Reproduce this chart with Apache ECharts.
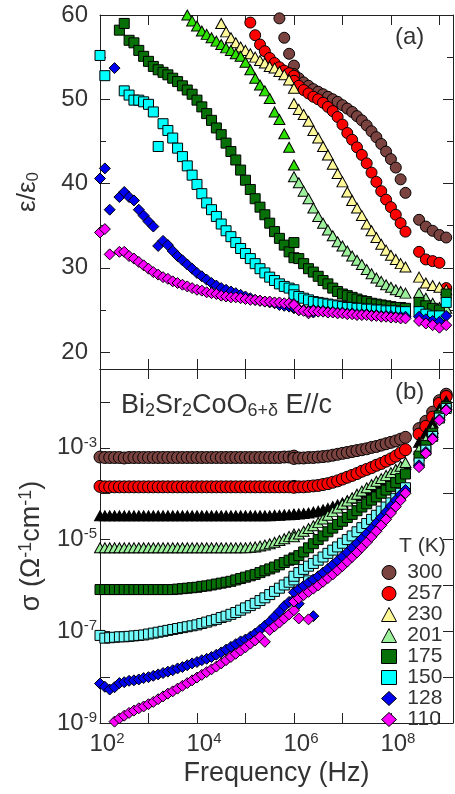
<!DOCTYPE html>
<html><head><meta charset="utf-8">
<script src="https://cdn.jsdelivr.net/npm/echarts@6.0.0/dist/echarts.min.js"></script>
<style>html,body{margin:0;padding:0;background:#fff}#c{width:455px;height:794px}</style>
</head><body><div id="c"></div>
<script>
const N = null;
// log10 of frequency (Hz): low-frequency band, high-frequency band, top band
const freqLow = [2.0,2.1,2.2,2.3,2.4,2.5,2.6,2.7,2.8,2.9,3.0,3.1,3.2,3.3,3.4,3.5,3.6,3.7,3.8,3.9,4.0,4.1,4.2,4.3,4.4,4.5,4.6,4.7,4.8,4.9,5.0,5.1,5.2,5.3,5.4,5.5,5.6,5.7,5.8,5.9,6.0,6.1,6.2,6.3,6.4];
const freqHigh = [6.0,6.1,6.2,6.3,6.4,6.5,6.6,6.7,6.8,6.9,7.0,7.1,7.2,7.3,7.4,7.5,7.6,7.7,7.8,7.9,8.0,8.1,8.2,8.3];
const freqTop = [8.58,8.72,8.86,9.0,9.14];
const logFreq = freqLow.concat(freqHigh, freqTop);

const temps = ['300','257','230','201','175','150','128','110'];

// panel (a): epsilon/epsilon0
const eps300 = [N,N,N,N,N,N,N,N,N,N, N,N,N,N,N,N,N,N,N,N, N,N,N,N,N,N,N,N,N,N, N,N,N,N,N,N,N,59.6,57.3,55.4, 54.0,N,N,N,N,
 53.0,52.5,52.0,51.6,51.2,50.9,50.6,50.3,50.0,49.7,49.3,48.9,48.5,48.0,47.5,46.9,46.2,45.5,44.7,43.8,42.9,41.9,40.5,38.9,
 35.7,34.9,34.4,33.9,33.6];
const eps257 = [N,N,N,N,N,N,N,N,N,N, N,N,N,N,N,N,N,N,N,N, N,N,N,N,N,N,N,N,N,N, N,59.1,57.6,56.5,55.7,54.9,54.3,53.8,53.4,53.1, 52.8,N,N,N,N,
 52.2,51.6,51.1,50.7,50.3,50.0,49.6,49.1,48.6,47.9,47.0,46.0,45.2,44.3,43.4,42.4,41.3,40.2,39.1,38.1,37.2,36.3,35.3,34.3,
 31.9,31.0,30.8,30.6,27.6];
const eps230 = [N,N,N,N,N,N,N,N,N,N, N,N,N,N,N,N,N,N,N,N, N,N,N,N,N,59.0,58.0,57.3,56.7,56.2, 55.8,55.4,55.0,54.6,54.3,53.9,53.7,53.3,52.9,52.3, 51.3,N,N,N,N,
 49.5,48.8,48.2,47.4,46.3,45.4,44.4,43.4,42.3,41.2,40.2,39.0,38.0,37.1,36.2,35.2,34.4,33.6,32.8,32.1,31.5,31.0,30.5,30.1,
 28.9,28.2,27.9,27.7,27.4];
const eps201 = [N,N,N,N,N,N,N,N,N,N, N,N,N,N,N,N,N,N,60.0,59.3, 58.7,58.1,57.7,57.3,56.9,56.5,56.1,55.8,55.4,55.1, 54.4,53.5,52.5,51.7,51.0,50.1,48.5,47.6,45.9,44.3, 42.2,N,N,N,N,
 40.8,40.1,39.1,38.2,37.1,36.1,35.3,34.5,33.8,33.1,32.6,32.0,31.4,30.9,30.4,29.8,29.3,28.8,28.4,28.0,27.7,27.4,27.2,27.0,
 27.0,26.4,25.8,25.3,25.2];
const eps175 = [N,N,N,N,58.2,59.0,57.0,56.7,55.8,55.1, 54.5,53.9,53.5,53.2,52.9,52.5,52.1,51.6,51.1,50.6, 49.9,49.1,48.3,47.5,46.6,45.8,44.8,43.8,42.8,41.6, 40.4,39.3,38.2,37.2,36.3,35.3,34.3,33.5,32.7,31.9, 33.0,N,N,N,N,
 31.2,31.1,30.5,29.9,29.5,29.0,28.5,28.1,27.6,27.2,26.9,26.7,26.5,26.3,26.1,26.0,25.8,25.7,25.6,25.5,25.4,25.3,25.3,25.2,
 25.9,25.5,25.2,25.0,26.9];
const eps150 = [55.2,52.8,N,N,N,51.0,50.5,49.9,49.9,49.7, 49.4,48.5,44.4,47.1,46.3,45.4,44.2,43.2,42.1,41.0, 39.9,38.8,37.7,36.9,36.1,35.2,34.4,33.7,33.0,32.3, 31.7,31.1,30.5,29.9,29.4,28.9,28.5,28.1,27.8,27.6, 27.4,N,N,N,N,
 26.8,26.6,26.4,26.2,26.0,25.9,25.8,25.7,25.6,25.5,25.4,25.3,25.3,25.2,25.2,25.1,25.1,25.0,25.0,24.9,24.9,24.9,24.8,24.8,
 24.8,24.5,24.3,24.3,25.9];
const eps128 = [40.6,41.8,36.9,53.7,38.4,39.0,38.4,38.0,36.9,36.2, 35.5,34.9,32.6,33.2,32.7,32.0,31.4,30.9,30.4,29.9, 29.4,29.0,28.6,28.2,27.9,27.6,27.4,27.2,27.0,26.8, 26.6,26.4,26.2,26.1,26.0,25.9,25.8,25.6,25.5,25.4, 25.2,25.0,N,N,24.7,
 25.3,25.1,25.0,24.9,25.0,24.9,24.9,24.8,24.8,24.7,24.7,24.6,24.6,24.5,24.5,24.5,24.4,24.4,24.3,24.3,24.3,24.2,24.2,24.2,
 24.2,23.9,23.7,23.6,24.3];
const eps110 = [34.2,34.6,31.6,N,31.9,31.9,31.4,31.1,30.7,30.3, 29.9,29.5,29.2,28.9,28.7,28.4,28.2,28.0,27.8,27.6, 27.4,27.3,27.1,27.0,26.9,26.7,26.6,26.5,26.5,26.4, 26.3,26.2,26.2,26.1,26.0,26.0,25.9,25.9,25.8,25.8, 25.7,25.0,N,24.6,N,
 25.6,25.0,24.9,24.8,24.9,24.8,24.8,24.7,24.7,24.6,24.6,24.5,24.5,24.4,24.4,24.4,24.3,24.3,24.2,24.2,24.1,24.1,24.0,24.0,
 23.7,23.4,23.2,22.9,23.2];

// panel (b): log10 of sigma (Ohm^-1 cm^-1)
const sig300 = [-3.20,-3.21,-3.21,-3.21,-3.21,-3.22,-3.21,-3.21,-3.21,-3.21, -3.21,-3.21,-3.21,-3.21,-3.21,-3.21,-3.21,-3.21,-3.21,-3.21, -3.21,-3.21,-3.21,-3.21,-3.21,-3.21,-3.21,-3.21,-3.21,-3.21, -3.21,-3.21,-3.21,-3.21,-3.21,-3.21,-3.21,-3.21,-3.20,-3.20, -3.18,N,N,N,N,
 -3.23,-3.22,-3.22,-3.21,-3.21,-3.20,-3.19,-3.18,-3.16,-3.14,-3.12,-3.10,-3.08,-3.06,-3.04,-3.02,-2.99,-2.97,-2.94,-2.91,-2.88,-2.85,-2.81,-2.77,
 -2.58,-2.42,-2.22,-1.97,-1.83];
const sig257 = [-3.84,-3.85,-3.85,-3.85,-3.85,-3.85,-3.85,-3.85,-3.85,-3.85, -3.85,-3.85,-3.85,-3.85,-3.85,-3.85,-3.85,-3.85,-3.85,-3.85, -3.85,-3.85,-3.85,-3.85,-3.85,-3.85,-3.85,-3.85,-3.85,-3.85, -3.85,-3.85,-3.85,-3.85,-3.85,-3.85,-3.85,-3.85,-3.85,-3.85, -3.84,N,N,N,N,
 -3.86,-3.85,-3.85,-3.84,-3.83,-3.82,-3.80,-3.78,-3.75,-3.72,-3.68,-3.64,-3.60,-3.56,-3.51,-3.47,-3.43,-3.38,-3.34,-3.29,-3.24,-3.18,-3.11,-3.04,
 -2.70,-2.53,-2.33,-2.03,-1.88];
const sig230 = [-4.48,-4.48,-4.48,-4.48,-4.48,-4.48,-4.48,-4.48,-4.48,-4.48, -4.48,-4.48,-4.48,-4.48,-4.48,-4.48,-4.48,-4.48,-4.48,-4.48, -4.48,-4.48,-4.48,-4.48,-4.48,-4.48,-4.48,-4.48,-4.48,-4.48, -4.48,-4.48,-4.48,-4.48,-4.48,-4.48,-4.47,-4.47,-4.46,-4.46, -4.45,N,N,N,N,
 -4.45,-4.44,-4.43,-4.42,-4.40,-4.38,-4.35,-4.32,-4.28,-4.24,-4.20,-4.15,-4.10,-4.04,-3.98,-3.92,-3.86,-3.80,-3.73,-3.66,-3.59,-3.51,-3.43,-3.36,
 -2.88,-2.68,-2.45,-2.15,-1.98];
const sig201 = [-5.18,-5.18,-5.18,-5.18,-5.18,-5.18,-5.18,-5.18,-5.18,-5.18, -5.18,-5.18,-5.18,-5.18,-5.18,-5.18,-5.18,-5.18,-5.18,-5.18, -5.18,-5.18,-5.18,-5.18,-5.18,-5.18,-5.18,-5.18,-5.18,-5.18, -5.18,-5.17,-5.16,-5.14,-5.12,-5.09,-5.06,-5.02,-4.98,-4.93, -4.88,N,N,N,N,
 -4.94,-4.88,-4.82,-4.76,-4.70,-4.63,-4.55,-4.47,-4.39,-4.31,-4.23,-4.16,-4.09,-4.01,-3.94,-3.87,-3.80,-3.73,-3.67,-3.60,-3.54,-3.47,-3.40,-3.32,
 -3.03,-2.82,-2.58,-2.22,-2.05];
const sig175 = [-6.09,-6.09,-6.09,-6.09,-6.09,-6.09,-6.09,-6.09,-6.09,-6.09, -6.09,-6.09,-6.09,-6.09,-6.09,-6.09,-6.08,-6.07,-6.06,-6.05, -6.04,-6.02,-6.01,-5.99,-5.97,-5.95,-5.93,-5.91,-5.88,-5.85, -5.82,-5.79,-5.76,-5.72,-5.68,-5.64,-5.60,-5.55,-5.50,-5.45, -5.40,N,N,N,N,
 -5.43,-5.35,-5.27,-5.18,-5.09,-5.00,-4.92,-4.83,-4.75,-4.67,-4.60,-4.52,-4.45,-4.37,-4.29,-4.22,-4.14,-4.07,-3.99,-3.92,-3.84,-3.76,-3.67,-3.57,
 -3.18,-2.95,-2.68,-2.30,-2.10];
const sig150 = [-7.09,-7.15,-7.14,-7.13,-7.12,-7.12,-7.11,-7.10,-7.09,-7.08, -7.06,-7.04,-7.02,-7.00,-6.98,-6.96,-6.94,-6.92,-6.90,-6.88, -6.86,-6.83,-6.80,-6.77,-6.74,-6.70,-6.67,-6.63,-6.59,-6.54, -6.49,-6.44,-6.39,-6.33,-6.27,-6.20,-6.13,-6.06,-5.99,-5.93, -5.88,N,N,-5.90,N,
 -5.80,-5.72,-5.65,-5.58,-5.52,-5.45,-5.38,-5.30,-5.23,-5.16,-5.08,-5.00,-4.92,-4.83,-4.74,-4.65,-4.56,-4.47,-4.38,-4.29,-4.20,-4.10,-3.99,-3.87,
 -3.33,-3.05,-2.75,-2.35,-2.14];
const sig128 = [-8.14,-8.21,-8.27,-8.22,-8.13,-8.11,-8.08,-8.07,-8.05,-8.02, -8.00,-7.97,-7.94,-7.91,-7.88,-7.85,-7.81,-7.78,-7.74,-7.70, -7.67,-7.63,-7.60,-7.56,-7.51,-7.46,-7.40,-7.34,-7.28,-7.22, -7.18,-7.12,-7.05,-6.97,-6.88,-6.79,-6.68,-6.57,-6.45,-6.36, -6.30,-6.40,N,N,-6.67,
 -6.15,-6.08,-6.01,-5.94,-5.87,-5.80,-5.72,-5.64,-5.55,-5.46,-5.37,-5.28,-5.18,-5.08,-4.98,-4.87,-4.76,-4.64,-4.52,-4.40,-4.27,-4.14,-4.02,-3.92,
 -3.38,-3.09,-2.78,-2.38,-2.16];
const sig110 = [N,N,N,-8.97,-8.90,-8.84,-8.78,-8.73,-8.68,-8.64, -8.59,-8.54,-8.48,-8.42,-8.36,-8.31,-8.25,-8.19,-8.13,-8.07, -8.01,-7.95,-7.89,-7.83,-7.77,-7.70,-7.63,-7.56,-7.49,-7.42, -7.35,-7.27,-7.20,-7.12,-7.23,-6.97,-6.89,-6.81,-6.72,-6.63, -6.54,-6.72,N,-6.74,N,
 -6.35,-6.28,-6.21,-6.14,-6.07,-6.00,-5.92,-5.84,-5.76,-5.67,-5.58,-5.48,-5.38,-5.28,-5.17,-5.06,-4.94,-4.82,-4.69,-4.56,-4.42,-4.28,-4.14,-3.99,
 -3.42,-3.12,-2.81,-2.40,-2.18];

// axis ticks and labels
const xTicks = [2,3,4,5,6,7,8,9];
const xLabels = [2,4,6,8];
const epsTicks = [20,30,40,50,60];
const epsMinor = [25,35,45,55];
const sigTicks = [-9,-8,-7,-6,-5,-4,-3,-2];
const sigLabels = [-9,-7,-5,-3];

const FONT = '"Liberation Sans", Arial, Helvetica, sans-serif';
const TXT = '#333';
const LINE = '#222';

const epsSeries = {'300':eps300,'257':eps257,'230':eps230,'201':eps201,'175':eps175,'150':eps150,'128':eps128,'110':eps110};
const sigSeries = {'300':sig300,'257':sig257,'230':sig230,'201':sig201,'175':sig175,'150':sig150,'128':sig128,'110':sig110};

const look = {
  '300': {symbol:'circle', size:11, colA:'#7b4340', colB:'#7b4340'},
  '257': {symbol:'circle', size:11, colA:'#ff0000', colB:'#ff0000'},
  '230': {symbol:'triangle', size:[11,10], colA:'#fff899', colB:'#000000'},
  '201': {symbol:'triangle', size:[11,10], colA:'#9cf09c', colB:'#9cf09c', lowA:'#2de000'},
  '175': {symbol:'rect', size:10, colA:'#087008', colB:'#087008'},
  '150': {symbol:'rect', size:10, colA:'#00ffff', colB:'#70fafa'},
  '128': {symbol:'diamond', size:11, colA:'#0000f0', colB:'#0000f0'},
  '110': {symbol:'diamond', size:11, colA:'#ff00ff', colB:'#ff00ff'}
};

function points(vals, lowColor) {
  const out = [];
  vals.forEach((v, i) => {
    if (v == null) return;
    const p = {value: [logFreq[i], v]};
    if (lowColor && i < freqLow.length) p.itemStyle = {color: lowColor};
    out.push(p);
  });
  return out;
}

const series = [];
temps.forEach(t => {
  const L = look[t];
  series.push({
    name: t, type: 'scatter', xAxisIndex: 0, yAxisIndex: 0,
    symbol: L.symbol, symbolSize: L.size,
    itemStyle: {color: L.colA, borderColor: '#000', borderWidth: 1, opacity: 1},
    emphasis: {disabled: true}, clip: true,
    data: points(epsSeries[t], L.lowA)
  });
});
temps.forEach(t => {
  const L = look[t];
  series.push({
    name: 'sigma ' + t, type: 'scatter', xAxisIndex: 2, yAxisIndex: 4,
    symbol: L.symbol, symbolSize: (L.symbol === 'circle' ? 12 : L.size),
    itemStyle: {color: L.colB, borderColor: '#000', borderWidth: 1, opacity: 1},
    emphasis: {disabled: true}, clip: true,
    data: points(sigSeries[t])
  });
});

const richPow = {
  b: {fontSize: 24, lineHeight: 26, fontFamily: FONT, color: TXT},
  s: {fontSize: 15, lineHeight: 14, verticalAlign: 'top', fontFamily: FONT, color: TXT}
};
const line = {show: true, onZero: false, lineStyle: {color: LINE, width: 1}};
const tick = (vals, len) => ({show: true, inside: true, length: len, customValues: vals, lineStyle: {color: LINE, width: 1}});

const XMIN = 2, XMAX = 9.28;
const xAxes = [
  {gridIndex: 0, type: 'value', position: 'bottom', min: XMIN, max: XMAX, axisLine: line, axisTick: tick(xTicks, 10), axisLabel: {show: false}, splitLine: {show: false}},
  {gridIndex: 0, type: 'value', position: 'top', min: XMIN, max: XMAX, axisLine: line, axisTick: tick(xTicks, 10), axisLabel: {show: false}, splitLine: {show: false}},
  {gridIndex: 1, type: 'value', position: 'bottom', min: XMIN, max: XMAX, axisLine: line, axisTick: tick(xTicks, 10),
   axisLabel: {show: true, customValues: xLabels, margin: 8, padding: [0, 0, 0, 14], formatter: v => '{b|10}{s|' + v + '}', rich: richPow},
   splitLine: {show: false},
   name: 'Frequency (Hz)', nameLocation: 'middle', nameGap: 37,
   nameTextStyle: {fontSize: 27, fontFamily: FONT, color: TXT}},
  {gridIndex: 1, type: 'value', position: 'top', min: XMIN, max: XMAX, axisLine: line, axisTick: tick(xTicks, 10), axisLabel: {show: false}, splitLine: {show: false}}
];
const yAxes = [
  {gridIndex: 0, type: 'value', position: 'left', min: 18, max: 60, axisLine: line, axisTick: tick(epsTicks, 10),
   axisLabel: {show: true, customValues: epsTicks, margin: 12, fontSize: 24, fontFamily: FONT, color: TXT},
   splitLine: {show: false},
   name: '{e|ε/ε}{u|0}', nameLocation: 'middle', nameGap: 58,
   nameTextStyle: {rich: {e: {fontSize: 26, lineHeight: 28, fontFamily: FONT, color: TXT}, u: {fontSize: 17, lineHeight: 12, verticalAlign: 'bottom', fontFamily: FONT, color: TXT}}}},
  {gridIndex: 0, type: 'value', position: 'right', min: 18, max: 60, axisLine: line, axisTick: tick(epsTicks, 10), axisLabel: {show: false}, splitLine: {show: false}},
  {gridIndex: 0, type: 'value', position: 'left', min: 18, max: 60, axisLine: {show: false}, axisTick: tick(epsMinor, 6), axisLabel: {show: false}, splitLine: {show: false}},
  {gridIndex: 0, type: 'value', position: 'right', min: 18, max: 60, axisLine: {show: false}, axisTick: tick(epsMinor, 6), axisLabel: {show: false}, splitLine: {show: false}},
  {gridIndex: 1, type: 'value', position: 'left', min: -9, max: -1.28, axisLine: line, axisTick: tick(sigTicks, 10),
   axisLabel: {show: true, customValues: sigLabels, margin: 3, formatter: v => '{b|10}{s|' + v + '}', rich: richPow},
   splitLine: {show: false},
   name: '{t|σ (Ω}{s|-1}{t|cm}{s|-1}{t|)}', nameLocation: 'middle', nameGap: 54,
   nameTextStyle: {rich: {t: {fontSize: 27, lineHeight: 29, fontFamily: FONT, color: TXT}, s: {fontSize: 18, lineHeight: 14, verticalAlign: 'top', fontFamily: FONT, color: TXT}}}},
  {gridIndex: 1, type: 'value', position: 'right', min: -9, max: -1.28, axisLine: line, axisTick: tick(sigTicks, 10), axisLabel: {show: false}, splitLine: {show: false}}
];

const chart = echarts.init(document.getElementById('c'), null, {renderer: 'canvas'});
chart.setOption({
  animation: false,
  backgroundColor: '#fff',
  grid: [
    {left: 100, top: 15, width: 353, height: 354},
    {left: 100, top: 369, width: 353, height: 354}
  ],
  xAxis: xAxes,
  yAxis: yAxes,
  legend: {
    data: temps, orient: 'vertical', left: 376, top: 557,
    itemWidth: 15, itemHeight: 14, itemGap: 0, selectedMode: false,
    itemStyle: {borderColor: '#000', borderWidth: 1},
    formatter: n => ' ' + n,
    textStyle: {fontSize: 21, lineHeight: 20, fontFamily: FONT, color: TXT}
  },
  graphic: [
    {type: 'text', left: 395, top: 25, style: {text: '(a)', fontSize: 24, fontFamily: FONT, fill: TXT}},
    {type: 'text', left: 395, top: 380, style: {text: '(b)', fontSize: 24, fontFamily: FONT, fill: TXT}},
    {type: 'text', left: 121, top: 392, style: {
      text: '{n|Bi}{d|2}{n|Sr}{d|2}{n|CoO}{d|6+δ}{n| E//c}',
      rich: {n: {fontSize: 27, lineHeight: 30, fontFamily: FONT, fill: TXT, color: TXT},
             d: {fontSize: 18, lineHeight: 12, verticalAlign: 'bottom', fontFamily: FONT, fill: TXT, color: TXT}}}},
    {type: 'text', left: 399, top: 536, style: {text: 'T (K)', fontSize: 21, fontFamily: FONT, fill: TXT}}
  ],
  series: series
});
</script></body></html>
